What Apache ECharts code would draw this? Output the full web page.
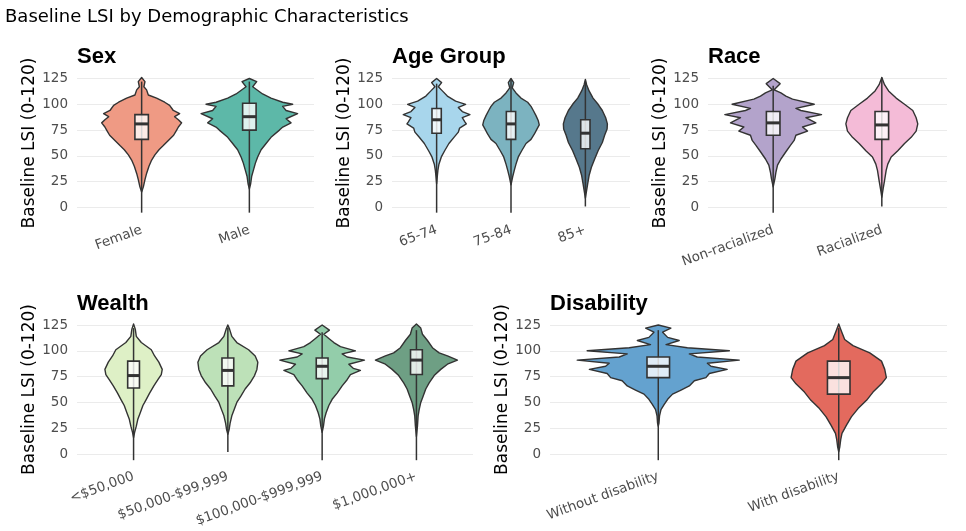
<!DOCTYPE html>
<html>
<head>
<meta charset="utf-8">
<script src="https://cdn.jsdelivr.net/npm/echarts@6/dist/echarts.min.js"></script>
<style>
html, body { margin: 0; padding: 0; background: #fff; }
#chart { width: 966px; height: 531px; }
</style>
</head>
<body>
<div id="chart"></div>
<script>
// ---- data: category labels ----
var sexLabels = ['Female', 'Male'];
var ageLabels = ['65-74', '75-84', '85+'];
var raceLabels = ['Non-racialized', 'Racialized'];
var wealthLabels = ['<$50,000', '$50,000-$99,999', '$100,000-$999,999', '$1,000,000+'];
var disLabels = ['Without disability', 'With disability'];
var yTicks = [0, 25, 50, 75, 100, 125];

// ---- box stats: [whisker low, q1, median, q3, whisker high] ----
var sexBox = [[-5, 66, 81, 90, 122], [-5, 75, 88, 101, 122]];
var ageBox = [[-5, 72, 85, 96, 120], [-5, 66, 81, 93, 124], [1, 57, 72, 85, 122]];
var raceBox = [[-5, 70, 82, 93, 118], [1, 66, 80, 93, 126]];
var wealthBox = [[-6, 64, 76, 90, 122], [2, 66, 81, 93, 122], [-6, 73, 85, 93, 118], [-6, 77, 91, 101, 120]];
var disBox = [[-6, 74, 85, 94, 120], [-6, 58, 74, 90, 122]];

// ---- violin outlines: LSI level and half width (category units) ----
var femaleY = [126,122,117,114,109,106,102,99,94,91,88,85,82,78,75,70,65,60,56,51,46,40,33,27,20,15];
var femaleW = [0,.031,.021,.046,.062,.139,.214,.26,.294,.353,.306,.341,.371,.341,.325,.297,.248,.201,.161,.123,.093,.068,.046,.031,.016,0];
var maleY = [125,122,117,110,106,102,100,98,94,91,86,82,78,75,68,62,56,49,43,36,30,23,18];
var maleW = [0,.068,.031,.123,.201,.309,.402,.309,.341,.448,.341,.387,.31,.279,.201,.155,.109,.077,.056,.037,.021,.012,0];

var age1Y = [125,121,117,113,108,103,100,97,93,90,87,83,81,77,73,68,62,55,49,42,36,30,23];
var age1W = [0,.067,.023,.077,.144,.255,.39,.292,.345,.448,.345,.38,.399,.309,.292,.233,.165,.108,.063,.031,.017,.009,0];
var age2Y = [125,121,116,111,106,102,98,94,89,84,80,76,71,66,62,55,49,42,36,30,22];
var age2W = [0,.036,.017,.067,.134,.224,.269,.3,.336,.367,.38,.349,.313,.269,.202,.144,.098,.067,.044,.023,0];
var age3Y = [124,119,113,106,100,94,87,81,76,70,63,55,47,39,31,23,15,9];
var age3W = [0,.017,.05,.103,.171,.228,.273,.296,.292,.259,.228,.171,.125,.081,.05,.031,.013,0];

var nonRacY = [125,120,114,111,108,105,100,96,94,90,87,82,78,74,70,65,60,54,47,41,34,28,20];
var nonRacW = [0,.064,.009,.071,.117,.178,.378,.209,.255,.445,.301,.393,.27,.316,.209,.193,.157,.117,.071,.04,.025,.016,0];
var racY = [126,119,113,106,100,94,87,81,74,68,62,55,49,42,36,26,18,10];
var racW = [0,.025,.062,.132,.209,.285,.316,.331,.316,.27,.209,.147,.086,.055,.04,.025,.012,0];

var w1Y = [126,121,114,108,101,95,89,82,77,72,66,59,53,47,40,34,27,21,16];
var w1W = [0,.018,.029,.082,.188,.223,.268,.304,.294,.258,.215,.17,.135,.099,.071,.046,.029,.011,0];
var w2Y = [125,121,114,108,101,95,89,82,76,69,63,56,50,43,37,30,24,19];
var w2W = [0,.018,.042,.095,.22,.29,.318,.308,.283,.236,.183,.138,.095,.067,.042,.024,.014,0];
var w3Y = [125,120,116,112,108,104,100,97,94,91,87,83,81,77,72,66,59,53,47,40,34,27,21];
var w3W = [0,.077,.018,.071,.124,.194,.353,.212,.265,.449,.283,.33,.406,.3,.265,.212,.159,.106,.071,.042,.024,.014,0];
var w4Y = [126,122,116,110,103,98,95,91,87,82,76,69,63,56,50,43,37,27,17];
var w4W = [0,.046,.064,.117,.17,.241,.329,.435,.329,.258,.188,.135,.099,.071,.046,.029,.018,.011,0];

var d1Y = [125,122,118,113,110,106,103,100,97,94,91,88,85,82,78,74,71,66,62,58,53,48,43,37,30,27];
var d1W = [0,.07,.024,.052,.116,.043,.161,.394,.172,.216,.449,.272,.292,.382,.283,.264,.2,.172,.126,.079,.052,.033,.015,.007,.004,0];
var d2Y = [126,119,111,105,98,90,82,74,68,60,52,44,36,28,20,14,7,2];
var d2W = [0,.015,.033,.079,.172,.237,.255,.264,.237,.19,.154,.107,.07,.043,.018,.011,.006,0];

// ---- panels ----
var panels = [
  {title: 'Sex', labels: sexLabels, ys: [femaleY, maleY], ws: [femaleW, maleW], box: sexBox,
   colors: ['#EF9A84', '#5DB8A8'], pos: {left: 77, top: 78.5, width: 237, height: 129}},
  {title: 'Age Group', labels: ageLabels, ys: [age1Y, age2Y, age3Y], ws: [age1W, age2W, age3W], box: ageBox,
   colors: ['#A8D6EC', '#7CB3C0', '#56788C'], pos: {left: 392, top: 78.5, width: 238, height: 129}},
  {title: 'Race', labels: raceLabels, ys: [nonRacY, racY], ws: [nonRacW, racW], box: raceBox,
   colors: ['#B3A3CB', '#F4BBD7'], pos: {left: 708, top: 78.5, width: 239, height: 129}},
  {title: 'Wealth', labels: wealthLabels, ys: [w1Y, w2Y, w3Y, w4Y], ws: [w1W, w2W, w3W, w4W], box: wealthBox,
   colors: ['#DEF0C6', '#BDE1B8', '#93CDAA', '#6E9F84'], pos: {left: 77, top: 325, width: 396, height: 129}},
  {title: 'Disability', labels: disLabels, ys: [d1Y, d2Y], ws: [d1W, d2W], box: disBox,
   colors: ['#64A2CF', '#E36A5E'], pos: {left: 550, top: 325, width: 397, height: 129}}
];

var FONT = 'DejaVu Sans';
var BOXW = 0.0625;

function makeRender(p) {
  return function (params, api) {
    var x = api.value(0);
    var i = x - 1;
    var ys = p.ys[i], ws = p.ws[i], b = p.box[i];
    var left = [], right = [];
    for (var k = 0; k < ys.length; k++) {
      left.push(api.coord([x - ws[k], ys[k]]));
      right.push(api.coord([x + ws[k], ys[k]]));
    }
    var pts = left.concat(right.reverse());
    var q3 = api.coord([x - BOXW, b[3]]), q1 = api.coord([x + BOXW, b[1]]);
    var m0 = api.coord([x - BOXW, b[2]]), m1 = api.coord([x + BOXW, b[2]]);
    var lo = api.coord([x, b[0]]), hi = api.coord([x, b[4]]);
    return {
      type: 'group',
      children: [
        {type: 'polygon', shape: {points: pts},
         style: {fill: p.colors[i], stroke: '#333333', lineWidth: 1.4, lineJoin: 'round'}},
        {type: 'line', shape: {x1: lo[0], y1: lo[1], x2: hi[0], y2: hi[1]},
         style: {stroke: '#333333', lineWidth: 1.5}},
        {type: 'rect', shape: {x: q3[0], y: q3[1], width: q1[0] - q3[0], height: q1[1] - q3[1]},
         style: {fill: 'rgba(255,255,255,0.8)', stroke: '#333333', lineWidth: 1.6}},
        {type: 'line', shape: {x1: m0[0], y1: m0[1], x2: m1[0], y2: m1[1]},
         style: {stroke: '#333333', lineWidth: 3}}
      ]
    };
  };
}

var grids = [], xAxes = [], yAxes = [], series = [];
var titles = [{
  text: 'Baseline LSI by Demographic Characteristics', left: 5, top: 8, padding: 0,
  textStyle: {fontFamily: FONT, fontSize: 18, fontWeight: 'normal', color: '#000'}
}];

panels.forEach(function (p, g) {
  var n = p.labels.length;
  grids.push(p.pos);
  titles.push({
    text: p.title, left: p.pos.left, top: p.pos.top - 32.5, padding: 0,
    textStyle: {fontFamily: 'Liberation Sans', fontSize: 22, fontWeight: 'bold', color: '#000'}
  });
  var ticks = p.labels.map(function (_, i) { return i + 1; });
  xAxes.push({
    type: 'value', gridIndex: g, min: 0.4, max: n + 0.6,
    splitLine: {show: false}, axisLine: {show: false}, axisTick: {show: false},
    axisLabel: {
      customValues: ticks, rotate: 20, margin: 22,
      color: '#4d4d4d', fontSize: 13.5, fontFamily: FONT,
      formatter: function (v) { return p.labels[Math.round(v) - 1] || ''; }
    }
  });
  yAxes.push({
    type: 'value', gridIndex: g, min: yTicks[0], max: yTicks[yTicks.length - 1], interval: 25,
    name: 'Baseline LSI (0-120)', nameLocation: 'middle', nameGap: 38,
    nameTextStyle: {color: '#000', fontSize: 17, fontFamily: FONT},
    axisLine: {show: false}, axisTick: {show: false},
    axisLabel: {margin: 9, color: '#4d4d4d', fontSize: 13.5, fontFamily: FONT},
    splitLine: {lineStyle: {color: '#ebebeb', width: 1.2}}
  });
  series.push({
    type: 'custom', xAxisIndex: g, yAxisIndex: g, clip: false,
    renderItem: makeRender(p),
    data: p.box.map(function (b, i) { return [i + 1, b[2]]; }),
    encode: {x: 0, y: 1}
  });
});

var chart = echarts.init(document.getElementById('chart'));
chart.setOption({
  animation: false,
  backgroundColor: '#fff',
  title: titles,
  grid: grids,
  xAxis: xAxes,
  yAxis: yAxes,
  series: series
});
</script>
</body>
</html>
